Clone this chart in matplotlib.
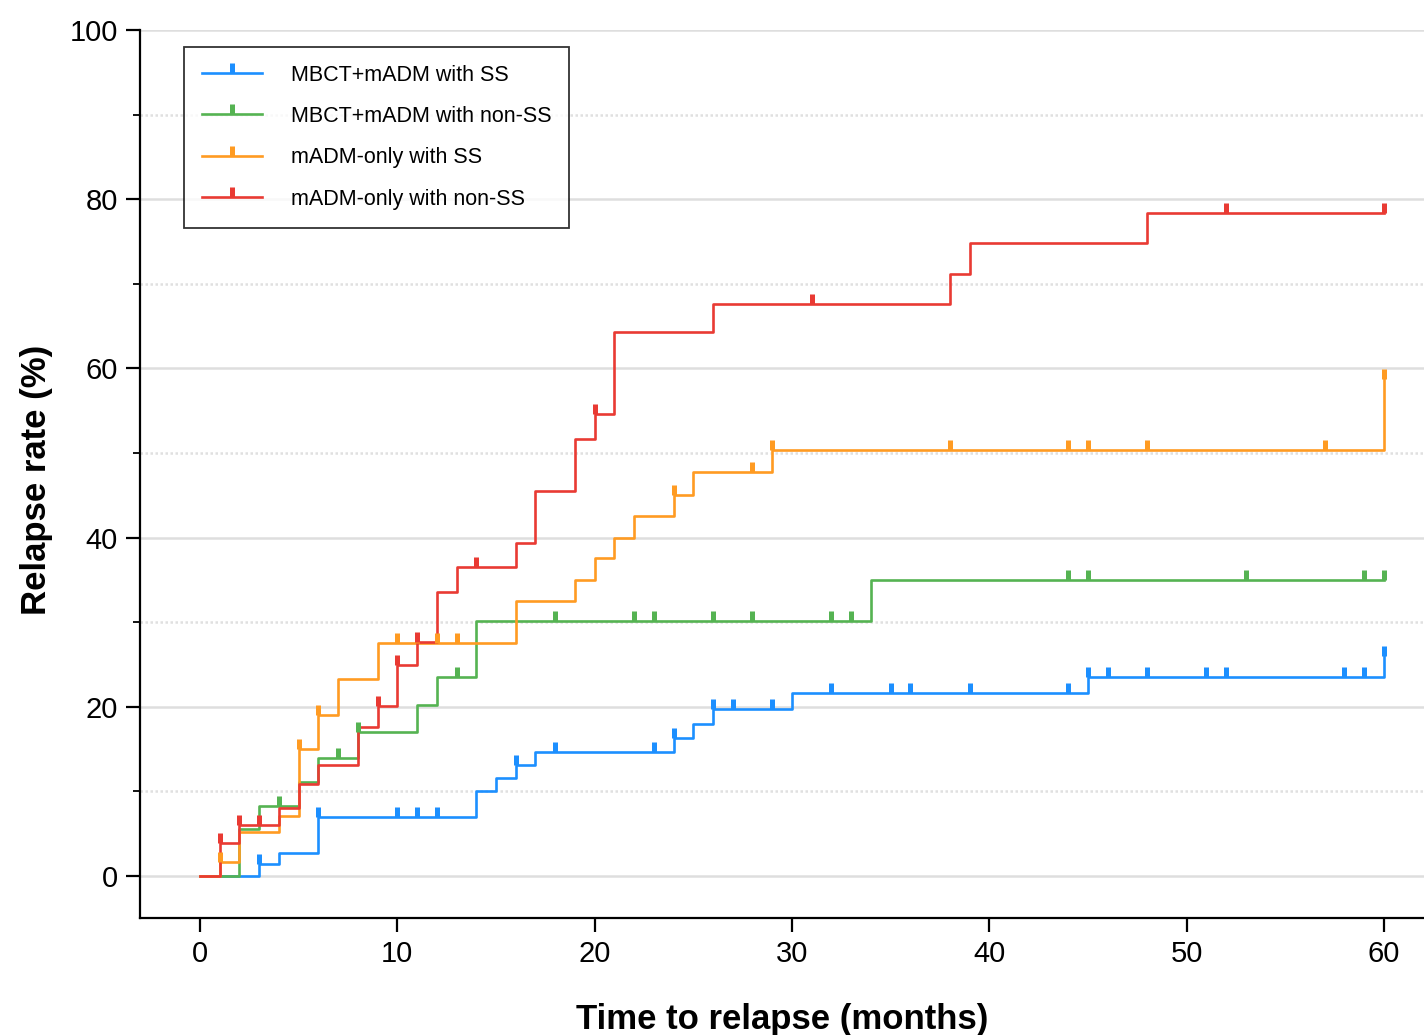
import numpy as np
import matplotlib
matplotlib.use("Agg")
import matplotlib.pyplot as plt
from matplotlib.path import Path
from matplotlib.lines import Line2D
from matplotlib.ticker import MultipleLocator

plt.rcParams['font.family'] = ['Liberation Sans', 'DejaVu Sans']

# group names
labels = ["MBCT+mADM with SS", "MBCT+mADM with non-SS", "mADM-only with SS", "mADM-only with non-SS"]
colors = ["#1c8fff", "#55b352", "#ff9b22", "#e93a33"]

# step data (months, relapse %)
blue_t = [0, 3, 4, 6, 14, 15, 16, 17, 24, 25, 26, 30, 45, 60]
blue_v = [0, 1.4, 2.75, 7.0, 10.0, 11.6, 13.1, 14.7, 16.35, 18.0, 19.7, 21.6, 23.5, 26.0]
blue_c = [3, 6, 10, 11, 12, 16, 18, 23, 24, 26, 27, 29, 32, 35, 36, 39, 44, 45, 46, 48, 51, 52, 58, 59, 60]

green_t = [0, 2, 3, 5, 6, 8, 11, 12, 14, 34, 60]
green_v = [0, 5.6, 8.27, 11.15, 14.0, 17.06, 20.2, 23.5, 30.1, 35.05, 35.05]
green_c = [4, 7, 8, 13, 18, 22, 23, 26, 28, 32, 33, 44, 45, 53, 59, 60]

orange_t = [0, 1, 2, 4, 5, 6, 7, 9, 16, 19, 20, 21, 22, 24, 25, 29, 60]
orange_v = [0, 1.65, 5.2, 7.1, 15.0, 19.0, 23.3, 27.6, 32.5, 35.0, 37.55, 40.0, 42.5, 45.0, 47.7, 50.3, 58.7]
orange_c = [1, 5, 6, 10, 11, 12, 13, 24, 28, 29, 38, 44, 45, 48, 57, 60]

red_t = [0, 1, 2, 4, 5, 6, 8, 9, 10, 11, 12, 13, 16, 17, 19, 20, 21, 26, 38, 39, 48, 60]
red_v = [0, 3.86, 6.0, 8.0, 10.9, 13.1, 17.65, 20.1, 25.0, 27.7, 33.6, 36.5, 39.4, 45.5, 51.6, 54.6, 64.3, 67.6, 71.2, 74.8, 78.4, 78.4]
red_c = [1, 2, 3, 9, 10, 11, 14, 20, 31, 52, 60]

groups = [(blue_t, blue_v, blue_c), (green_t, green_v, green_c),
          (orange_t, orange_v, orange_c), (red_t, red_v, red_c)]

# censor tick: short vertical stroke pointing up from the curve
tick = Path([(0, 0), (0, 1)], [Path.MOVETO, Path.LINETO])

fig = plt.figure(figsize=(14.24, 10.35), dpi=100)
ax = fig.add_axes([140/1424, 1 - 918/1035, 1 - 140/1424, (918 - 30)/1035])

ax.set_xlim(-3.04, 62.03)
ax.set_ylim(-4.96, 100)

for y in range(0, 101, 20):
    ax.axhline(y, color="#dedede", lw=1.8, zorder=0)
for y in range(10, 100, 20):
    ax.axhline(y, color="#e0e0e0", lw=1.8, ls=(0, (1, 1)), zorder=0)

handles = []
for (t, v, c), col, lab in zip(groups, colors, labels):
    ax.step(t, v, where="post", color=col, lw=1.9, zorder=3)
    idx = np.searchsorted(t, c, side="right") - 1
    cy = np.array(v)[idx]
    ax.plot(c, cy, ls="none", marker=tick, ms=15, mew=3.6, color=col, zorder=4)
    handles.append(Line2D([], [], color=col, lw=1.9, marker=tick, ms=15, mew=3.6))

ax.spines["top"].set_visible(False)
ax.spines["right"].set_visible(False)
ax.spines["left"].set_linewidth(1.6)
ax.spines["bottom"].set_linewidth(1.6)
ax.spines["left"].set_bounds(-4.96, 100)

ax.set_xticks(range(0, 61, 10))
ax.set_yticks(range(0, 101, 20))
ax.yaxis.set_minor_locator(MultipleLocator(10))
ax.tick_params(axis="both", which="major", length=10, width=1.6, labelsize=21, pad=6)
ax.tick_params(axis="y", which="minor", length=5, width=1.3)

ax.set_xlabel("Time to relapse (months)", fontsize=25, fontweight="bold")
ax.set_ylabel("Relapse rate (%)", fontsize=25, fontweight="bold")
ax.xaxis.set_label_coords(0.5, -0.096)
ax.yaxis.set_label_coords(-0.068, 0.493)

leg = ax.legend(handles, labels, loc="upper left", bbox_to_anchor=(0.0343, 0.981),
                fontsize=15.5, frameon=True, fancybox=False, edgecolor="black",
                handlelength=2.8, handletextpad=1.35, labelspacing=0.95,
                borderpad=0.82, numpoints=1, borderaxespad=0)
leg.get_frame().set_linewidth(1.3)

fig.savefig("out.png", dpi=100)
